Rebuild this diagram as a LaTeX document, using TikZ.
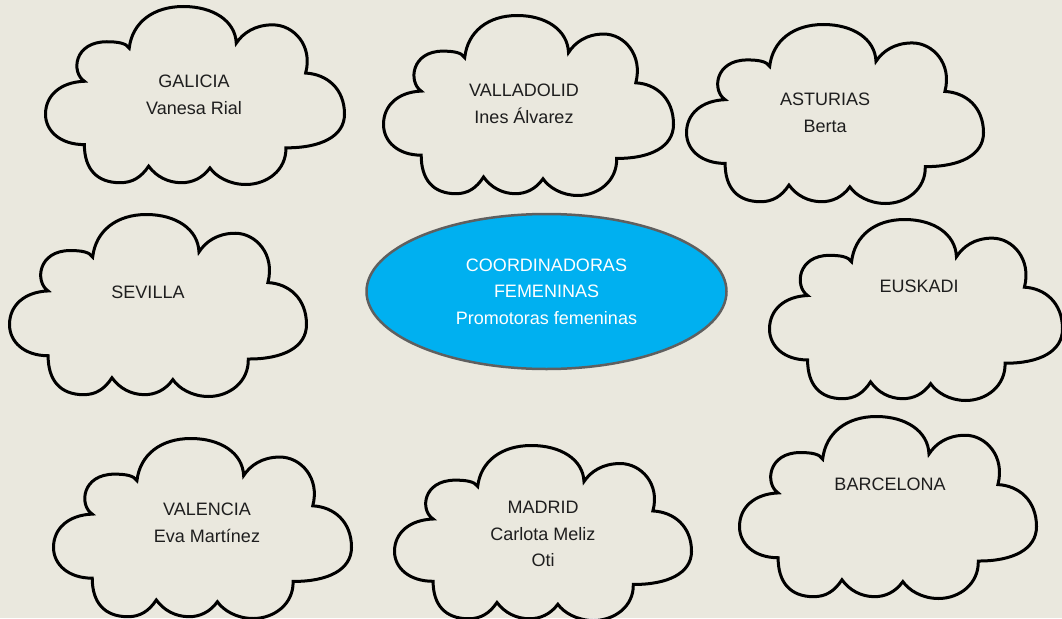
\documentclass[tikz,border=0pt]{standalone}
\usepackage{fontspec}
\setmainfont{Liberation Sans}
\usetikzlibrary{shapes.geometric}
\definecolor{bg}{HTML}{EAE8DE}
\definecolor{skyfill}{HTML}{00B0F0}
\definecolor{edgegray}{HTML}{5F5F5F}
\definecolor{txt}{HTML}{1E1E1E}
\tikzset{
  cloudline/.style={draw=black, line width=3pt, line join=miter},
  lbl/.style={text=txt, align=center, inner sep=0pt, font=\fontsize{18}{26.5}\selectfont},
  hub/.style={ellipse, fill=skyfill, draw=edgegray, line width=2.5pt, minimum width=360pt, minimum height=155pt, inner sep=0pt, text=white, align=center, font=\fontsize{18}{26.5}\selectfont}
}
% cloud in a 100 x 100 box (y down), placed at left/top with width/height (outer extents)
\newcommand\drawcloud[4]{%
  \pgfmathsetmacro\cldx{(#3-3)/100}%
  \pgfmathsetmacro\cldy{(#4-3)/100}%
  \begin{scope}[shift={(#1+1.5,#2+1.5)},x=\cldx pt,y=-\cldy pt]
    \draw[cloudline] (13,42)
      .. controls (8.5,37) and (9.5,19.8) .. (20.5,19.8)
      .. controls (24,19.8) and (27,20.5) .. (28,23.4)
      .. controls (29,9) and (36,0) .. (46.1,0)
      .. controls (56,0) and (63.5,8) .. (63.8,20.6)
      .. controls (66,15) and (70,10.3) .. (76,10.3)
      .. controls (83,10.3) and (89.5,22) .. (87,37.4)
      .. controls (94,38) and (100,46) .. (100,60.5)
      .. controls (100,73) and (92,79.5) .. (80.4,79.4)
      .. controls (80.6,92) and (74,100) .. (67,100)
      .. controls (61.5,100) and (57,95.5) .. (55,90.7)
      .. controls (52.5,96.5) and (49,99) .. (45.5,99)
      .. controls (41,99) and (37,95.5) .. (34.5,89.7)
      .. controls (32,96) and (29,99) .. (25,99)
      .. controls (17,99) and (13,91) .. (13,77.6)
      .. controls (5,77.6) and (0,70) .. (0,60.5)
      .. controls (0,50) and (5,42.5) .. (13,42)
      -- cycle;
  \end{scope}}
\begin{document}
\begin{tikzpicture}[x=1pt,y=-1pt]
  \fill[bg] (0,0) rectangle (1062,618);
  \useasboundingbox (0,0) rectangle (1062,618);
  % clouds: left, top, width, height
  \drawcloud{44}{5}{302}{181}
  \drawcloud{382}{14}{293}{183}
  \drawcloud{685}{23}{300}{182}
  \drawcloud{8}{213}{300}{185}
  \drawcloud{768}{218}{296}{184}
  \drawcloud{52}{437}{301}{183}
  \drawcloud{393}{444}{300}{178}
  \drawcloud{738}{415}{300}{185}
  % labels
  \node[lbl] (galicia) at (194,95) {GALICIA\\Vanesa Rial};
  \node[lbl] (valladolid) at (524,104) {VALLADOLID\\Ines Álvarez};
  \node[lbl] (asturias) at (825,113) {ASTURIAS\\Berta};
  \node[lbl] (sevilla) at (148,292) {SEVILLA};
  \node[lbl] (euskadi) at (919,286) {EUSKADI};
  \node[lbl] (valencia) at (207,523) {VALENCIA\\Eva Martínez};
  \node[lbl] (madrid) at (543,534) {MADRID\\Carlota Meliz\\Oti};
  \node[lbl] (barcelona) at (890,484) {BARCELONA};
  \node[hub] (coord) at (546.5,291.5) {COORDINADORAS\\FEMENINAS\\Promotoras femeninas};
\end{tikzpicture}
\end{document}
